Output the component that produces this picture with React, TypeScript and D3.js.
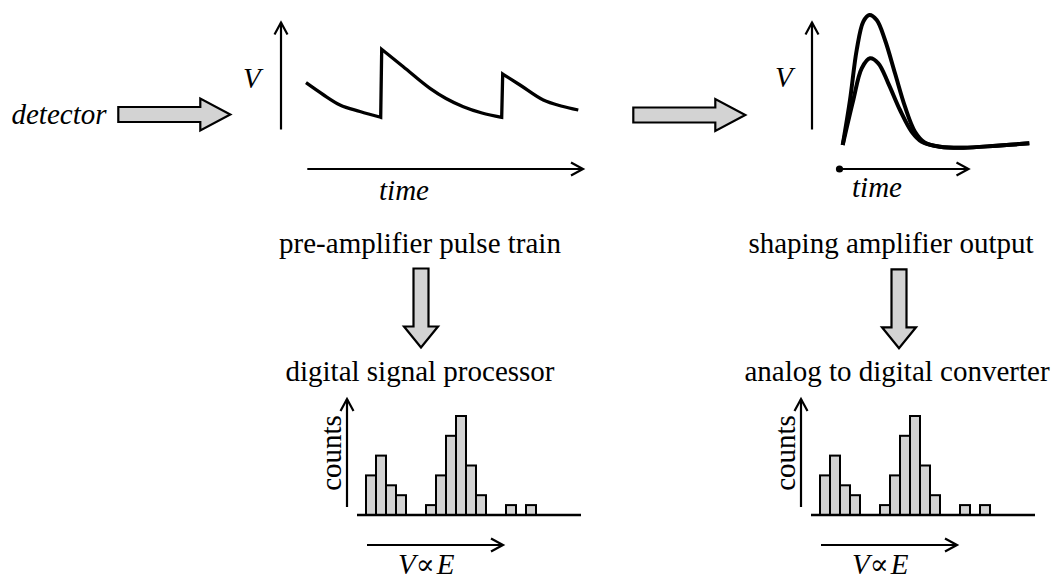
import React from "react";
import * as d3 from "d3";

// ---------- data ----------
// histogram (same spectrum in both branches)
const binIndex = [0, 1, 2, 3, 4, 5, 6, 7, 8, 9, 10, 11, 12, 13, 14, 15, 16];
const binCounts = [4, 6, 3, 2, 0, 0, 1, 4, 8, 10, 5, 2, 0, 0, 1, 0, 1];

// pre-amplifier sawtooth (three decaying segments)
const sawSeg1T = [0, 17, 34, 54, 74.7];
const sawSeg1V = [47.3, 35.5, 25, 18.5, 12.7];
const sawSeg2T = [75.7, 97.3, 124, 140, 157.3, 176, 195.7];
const sawSeg2V = [80.7, 63.3, 41.7, 31.5, 23.3, 17, 12.7];
const sawSeg3T = [196.7, 214, 237.3, 255, 272.3];
const sawSeg3V = [56, 45, 30, 24, 20];

// shaping amplifier pulses
const tallT = [0, 7.3, 14, 20.6, 26.6, 34, 42.3, 52.3, 62.3, 72.3, 82.3, 97.3, 120.6, 154, 186.6];
const tallV = [0, 45, 95, 123.3, 130, 125, 105, 71.7, 38.3, 13.3, 2.3, -1.7, -2.7, -0.7, 1.7];
const smallT = [0, 10.6, 19, 27.3, 35.6, 45.6, 57.3, 69, 79, 97.3, 120.6, 154, 186.6];
const smallV = [0, 45, 76.7, 86.7, 81.7, 61.7, 35, 13.3, 3.3, -1.7, -2.7, -0.7, 1.7];

// text labels
const labelDetector = "detector";
const labelV = "V";
const labelTime = "time";
const labelPreamp = "pre-amplifier pulse train";
const labelShaping = "shaping amplifier output";
const labelDSP = "digital signal processor";
const labelADC = "analog to digital converter";
const labelCounts = "counts";
const labelPropV = "V";
const labelPropSym = "∝";
const labelPropE = "E";

const FONT = "'Liberation Serif', 'Times New Roman', Times, serif";
const SYMFONT = "'DejaVu Serif', 'Liberation Serif', serif";
const FS = 29;
const GRAY = "#d3d3d3";

// ---------- helpers ----------
function zip(t: number[], v: number[]) {
  return t.map((d, i) => [d, v[i]] as [number, number]);
}

function ArrowLine({ x1, y1, x2, y2, w = 2.2 }: any) {
  const a = Math.atan2(y2 - y1, x2 - x1);
  const L = 12, H = 6.5;
  const bx = x2 - L * Math.cos(a), by = y2 - L * Math.sin(a);
  const px = -Math.sin(a) * H, py = Math.cos(a) * H;
  return (
    <g stroke="#000" strokeWidth={w} fill="none">
      <line x1={x1} y1={y1} x2={x2} y2={y2} />
      <polyline
        points={`${bx + px},${by + py} ${x2},${y2} ${bx - px},${by - py}`}
        strokeLinejoin="miter"
      />
    </g>
  );
}

function BlockArrowH({ x, y }: any) {
  // x = left of body, y = centre line
  const bodyL = 82, bodyH = 7.5, headL = 30, headH = 16;
  const pts = [
    [x, y - bodyH],
    [x + bodyL, y - bodyH],
    [x + bodyL, y - headH],
    [x + bodyL + headL, y],
    [x + bodyL, y + headH],
    [x + bodyL, y + bodyH],
    [x, y + bodyH],
  ];
  return <polygon points={pts.map((p) => p.join(",")).join(" ")} fill={GRAY} stroke="#000" strokeWidth={2.2} />;
}

function BlockArrowV({ x, y }: any) {
  // x = centre, y = top of body
  const bodyL = 58, bodyW = 7.5, headL = 21, headW = 17;
  const pts = [
    [x - bodyW, y],
    [x + bodyW, y],
    [x + bodyW, y + bodyL],
    [x + headW, y + bodyL],
    [x, y + bodyL + headL],
    [x - headW, y + bodyL],
    [x - bodyW, y + bodyL],
  ];
  return <polygon points={pts.map((p) => p.join(",")).join(" ")} fill={GRAY} stroke="#000" strokeWidth={2.2} />;
}

function Histogram({ barStart }: { barStart: number }) {
  const axisX = barStart - 19;
  const baseY = 515;
  const x = d3.scaleLinear().domain([0, binIndex.length]).range([barStart, barStart + 170]);
  const y = d3.scaleLinear().domain([0, 10]).range([baseY, baseY - 99]);
  return (
    <g>
      {binIndex.map((b, i) =>
        binCounts[i] > 0 ? (
          <rect
            key={b}
            x={x(b)}
            y={y(binCounts[i])}
            width={x(b + 1) - x(b)}
            height={baseY - y(binCounts[i])}
            fill={GRAY}
            stroke="#000"
            strokeWidth={2}
          />
        ) : null
      )}
      <line x1={axisX + 10} y1={baseY} x2={barStart + 215} y2={baseY} stroke="#000" strokeWidth={2.4} />
      <ArrowLine x1={axisX} y1={507} x2={axisX} y2={399} />
      <text
        transform={`translate(${axisX - 6},453) rotate(-90)`}
        textAnchor="middle"
        fontFamily={FONT}
        fontSize={FS}
      >
        {labelCounts}
      </text>
      <ArrowLine x1={barStart + 1} y1={545} x2={barStart + 137} y2={545} />
      <text x={barStart + 32} y={574} fontFamily={FONT} fontSize={FS} fontStyle="italic">
        <tspan>{labelPropV}</tspan>
        <tspan fontFamily={SYMFONT} fontStyle="normal" fontSize={28} dx={0}>
          {labelPropSym}
        </tspan>
        <tspan dx={2}>{labelPropE}</tspan>
      </text>
    </g>
  );
}

export default function App() {
  // sawtooth
  const sx = d3.scaleLinear().domain([0, 272.3]).range([306, 578.3]);
  const sy = d3.scaleLinear().domain([0, 100]).range([130, 30]);
  const sawLine = d3
    .line<[number, number]>()
    .x((d) => sx(d[0]))
    .y((d) => sy(d[1]))
    .curve(d3.curveMonotoneX);
  const sawPath =
    (sawLine(zip(sawSeg1T, sawSeg1V)) || "") +
    (sawLine(zip(sawSeg2T, sawSeg2V)) || "").replace(/^M/, "L") +
    (sawLine(zip(sawSeg3T, sawSeg3V)) || "").replace(/^M/, "L");

  // shaping pulses
  const px = d3.scaleLinear().domain([0, 186.6]).range([842.7, 1029.3]);
  const py = d3.scaleLinear().domain([0, 130]).range([145, 15]);
  const pulseLine = d3
    .line<[number, number]>()
    .x((d) => px(d[0]))
    .y((d) => py(d[1]))
    .curve(d3.curveCatmullRom.alpha(0.5));

  return (
    <svg
      width={1059}
      height={582}
      style={{ position: "absolute", left: 0, top: 0, background: "#fff" }}
    >
      <rect x={0} y={0} width={1059} height={582} fill="#fff" />
      {/* detector -> */}
      <text x={11.5} y={123.5} fontFamily={FONT} fontSize={FS} fontStyle="italic">
        {labelDetector}
      </text>
      <BlockArrowH x={118.3} y={114.5} />

      {/* pre-amplifier plot */}
      <text x={243} y={88} fontFamily={FONT} fontSize={FS} fontStyle="italic">
        {labelV}
      </text>
      <ArrowLine x1={281} y1={129.5} x2={281} y2={22.5} />
      <path d={sawPath} fill="none" stroke="#000" strokeWidth={3.3} strokeLinejoin="miter" />
      <ArrowLine x1={307.3} y1={169} x2={583} y2={169} />
      <text x={404} y={200} textAnchor="middle" fontFamily={FONT} fontSize={FS} fontStyle="italic">
        {labelTime}
      </text>
      <text x={420} y={253} textAnchor="middle" fontFamily={FONT} fontSize={FS}>
        {labelPreamp}
      </text>
      <BlockArrowV x={421} y={268.5} />
      <text x={420} y={381} textAnchor="middle" fontFamily={FONT} fontSize={FS}>
        {labelDSP}
      </text>
      <Histogram barStart={366} />

      {/* second arrow */}
      <BlockArrowH x={633.3} y={115} />

      {/* shaping plot */}
      <text x={775} y={87} fontFamily={FONT} fontSize={FS} fontStyle="italic">
        {labelV}
      </text>
      <ArrowLine x1={812} y1={129.5} x2={812} y2={22.5} />
      <path d={pulseLine(zip(smallT, smallV)) || ""} fill="none" stroke="#000" strokeWidth={4} />
      <path d={pulseLine(zip(tallT, tallV)) || ""} fill="none" stroke="#000" strokeWidth={4} />
      <circle cx={839.5} cy={169} r={3.6} fill="#000" />
      <ArrowLine x1={839.5} y1={169} x2={968.5} y2={169} />
      <text x={877} y={197} textAnchor="middle" fontFamily={FONT} fontSize={FS} fontStyle="italic">
        {labelTime}
      </text>
      <text x={891} y={253} textAnchor="middle" fontFamily={FONT} fontSize={FS}>
        {labelShaping}
      </text>
      <BlockArrowV x={899} y={269.3} />
      <text x={897} y={381} textAnchor="middle" fontFamily={FONT} fontSize={FS}>
        {labelADC}
      </text>
      <Histogram barStart={820} />
    </svg>
  );
}
